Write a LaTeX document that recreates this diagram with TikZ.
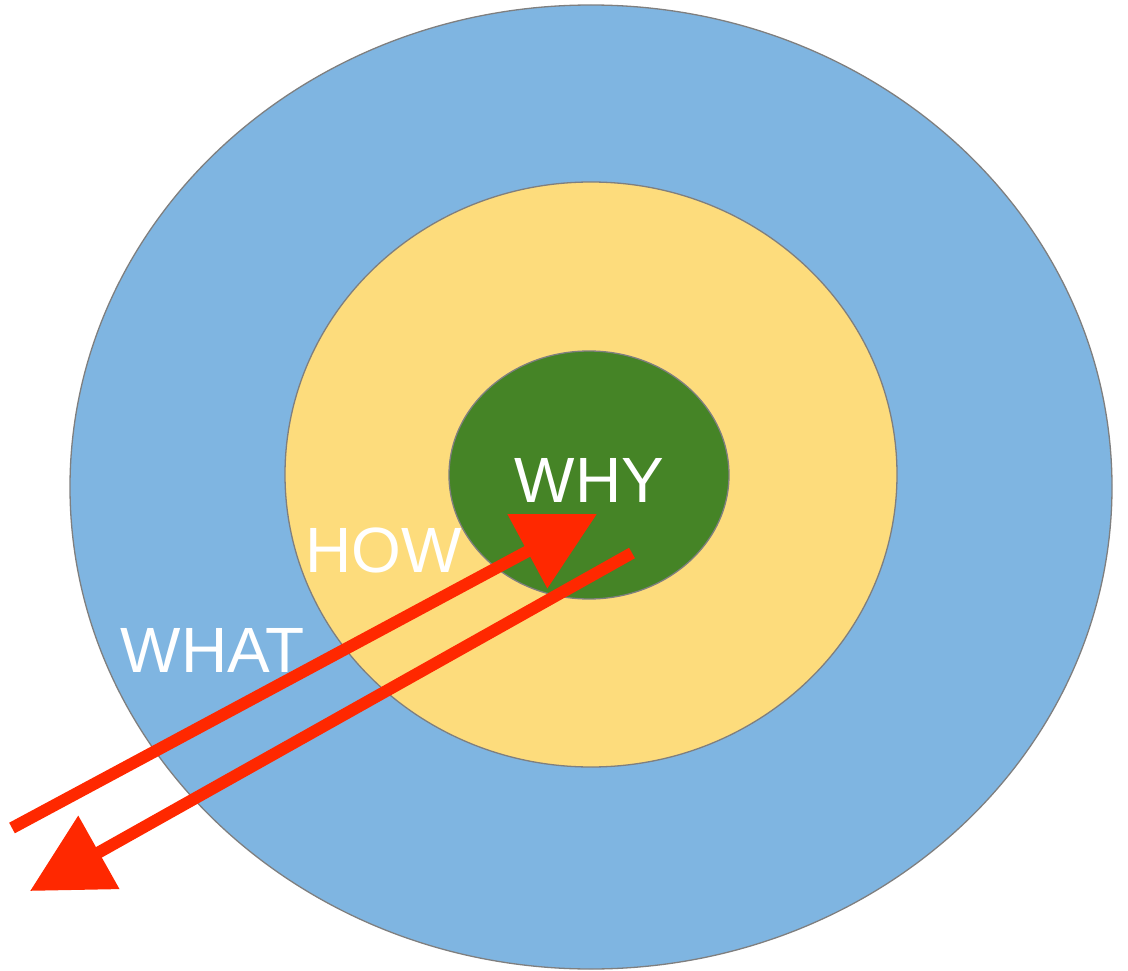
\documentclass[tikz,border=0pt]{standalone}
\usepackage{fontspec}
\setmainfont{Liberation Sans}
\usetikzlibrary{shapes.geometric,arrows.meta}
\definecolor{ringblue}{HTML}{7FB5E1}
\definecolor{ringyellow}{HTML}{FDDC7C}
\definecolor{ringgreen}{HTML}{458426}
\definecolor{arrowred}{HTML}{FF2800}
\definecolor{edgegray}{HTML}{7F7F7F}
\tikzset{
  ring/.style={ellipse, draw=edgegray, line width=1.3pt, inner sep=0pt},
  label/.style={text=white, font=\fontsize{64}{64}\selectfont, inner sep=0pt, anchor=base},
  redarrow/.style={draw=arrowred, line width=12pt, -{Triangle[length=79pt,width=81pt]}, arrowred}
}
\begin{document}
\begin{tikzpicture}[x=1pt,y=-1pt]
\useasboundingbox (0,0) rectangle (1128,971);
\node[ring, fill=ringblue, minimum width=1042pt, minimum height=964pt] (what) at (591,487) {};
\node[ring, fill=ringyellow, minimum width=612pt, minimum height=585pt] (how) at (591,474.5) {};
\node[ring, fill=ringgreen, minimum width=280pt, minimum height=248pt] (why) at (589,475) {};
\node[label] (whyt) at (589.5,502) {WHY};
\node[label] (howt) at (383.5,572) {HOW};
\node[label] (whatt) at (212.5,672) {WHAT};
\coordinate (a1s) at (12,828);
\coordinate (a1e) at (597,514);
\coordinate (a2s) at (632,553);
\coordinate (a2e) at (30,891);
\draw[redarrow] (a1s) -- (a1e);
\draw[redarrow] (a2s) -- (a2e);
\end{tikzpicture}
\end{document}
